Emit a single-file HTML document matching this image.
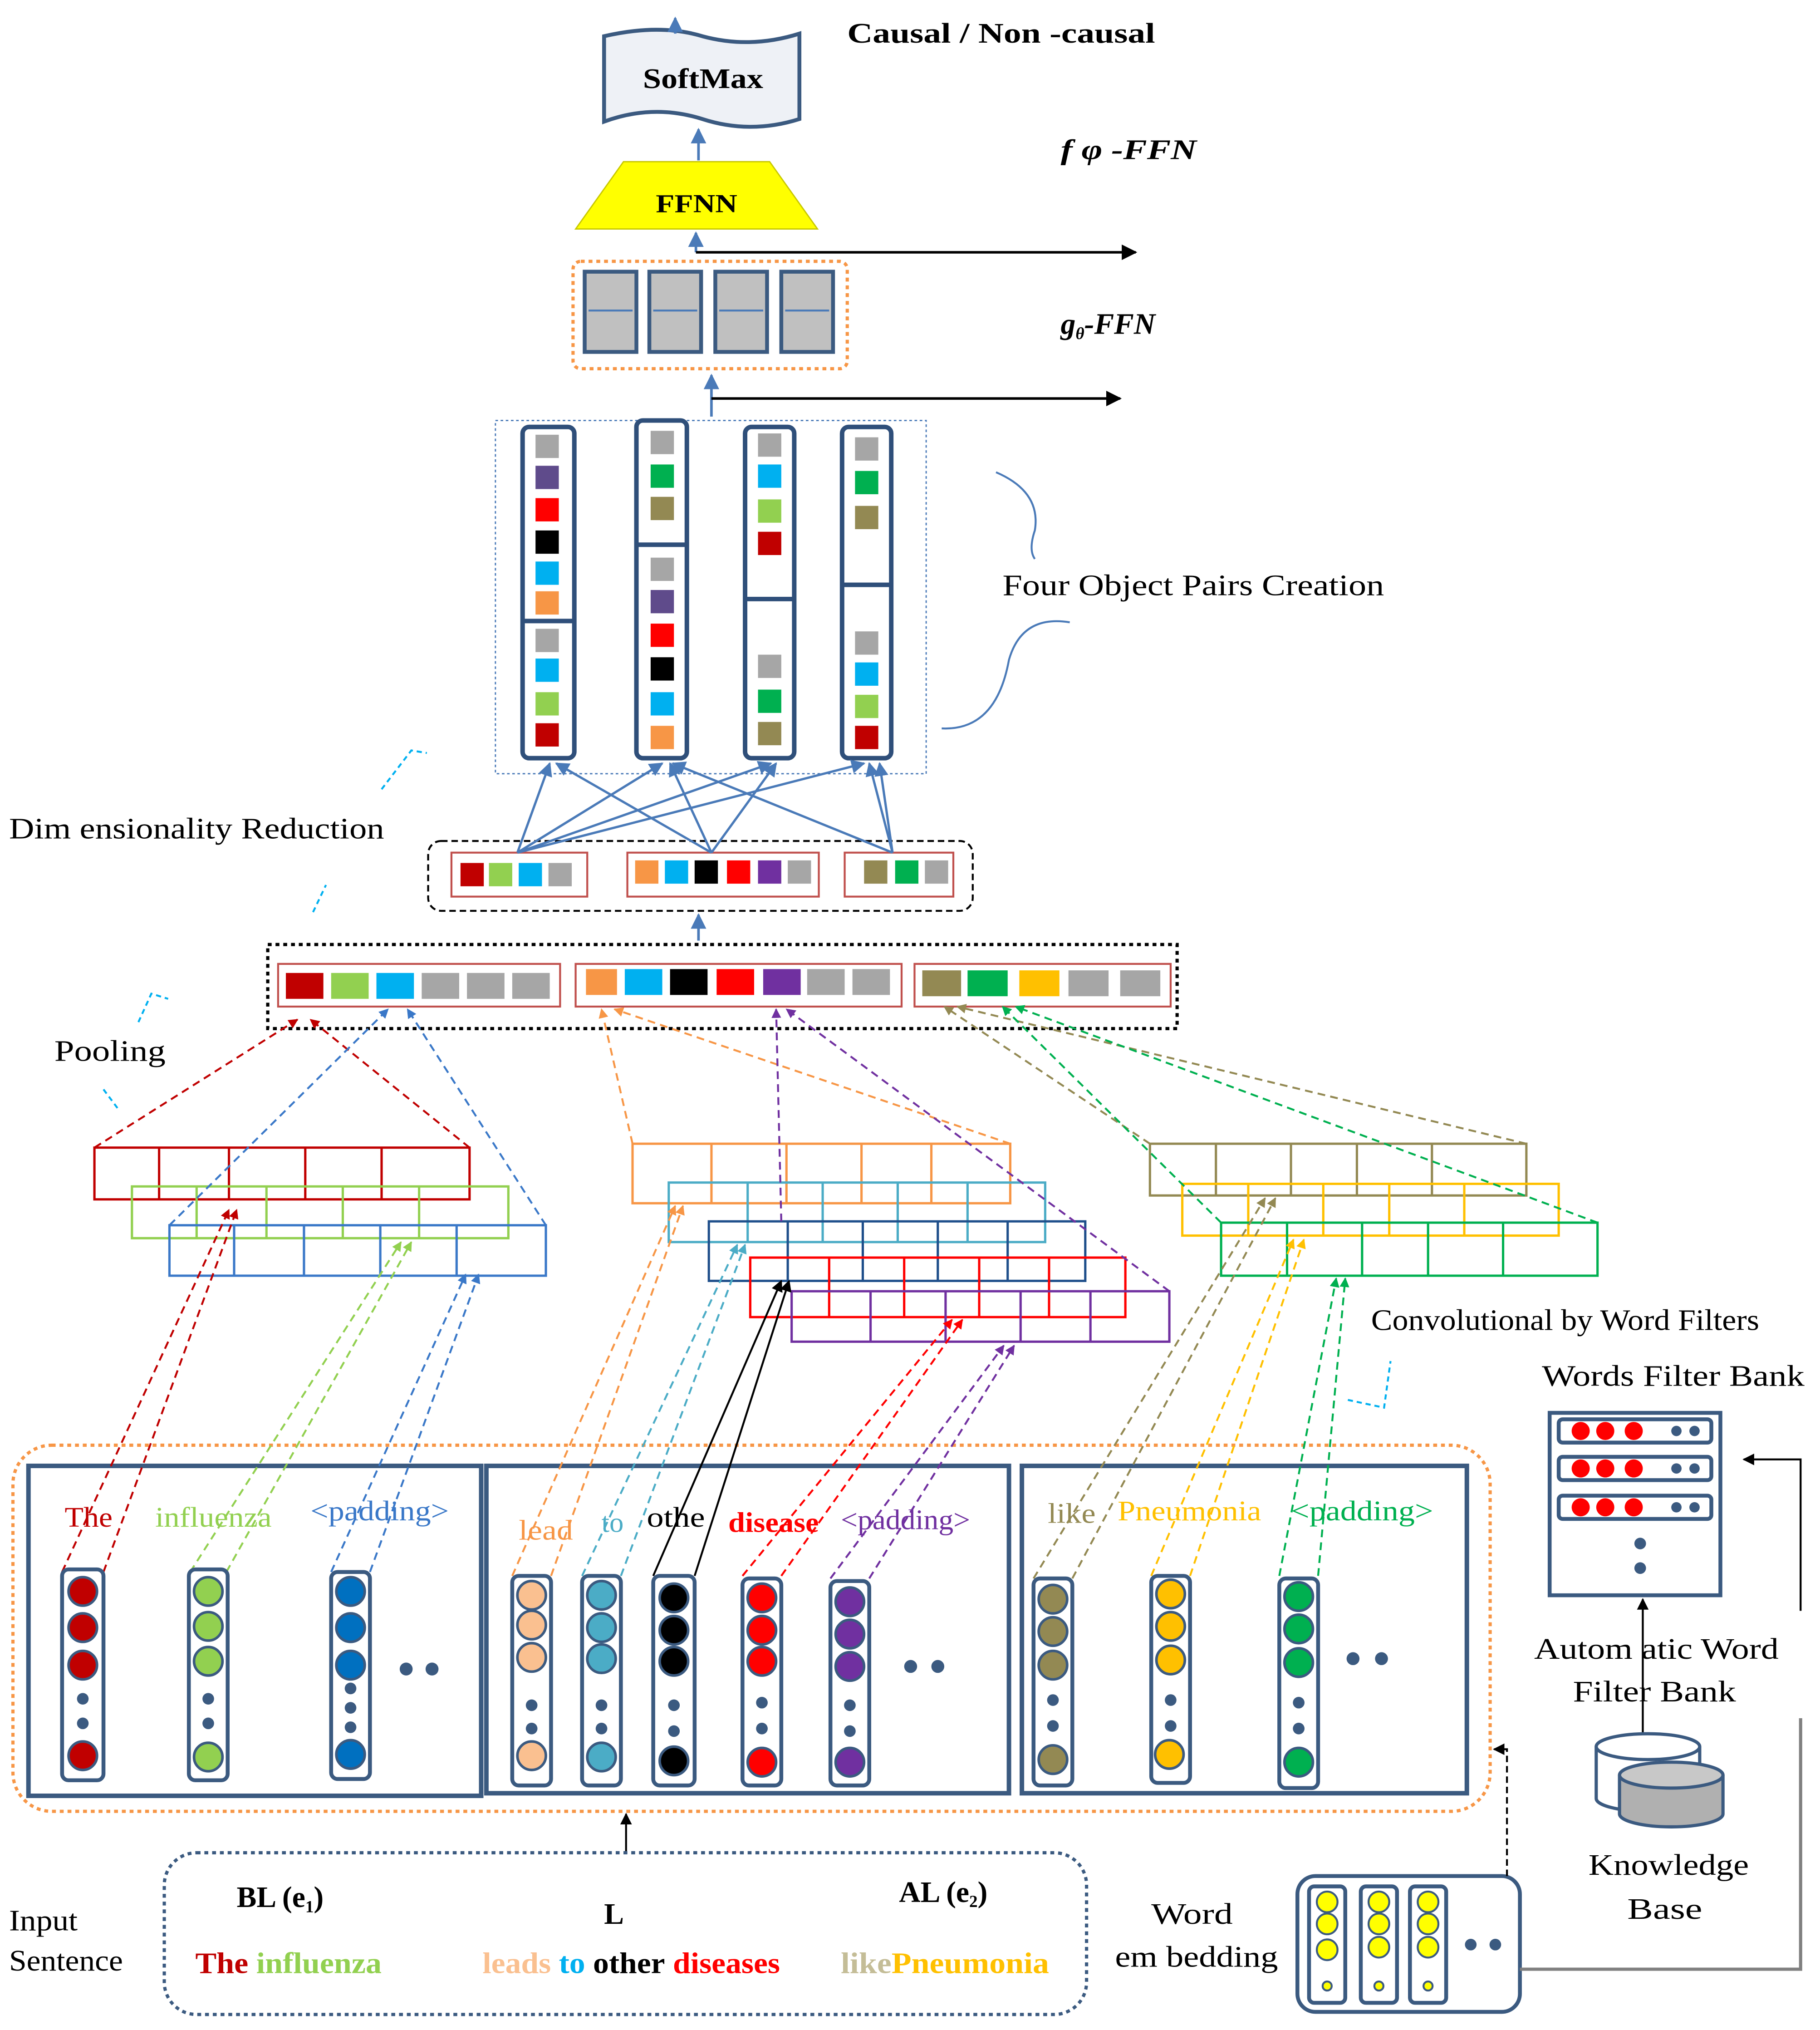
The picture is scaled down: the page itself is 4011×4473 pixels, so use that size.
<!DOCTYPE html>
<html><head><meta charset="utf-8"><style>html,body{margin:0;padding:0;background:#fff}svg{display:block}text{font-family:"Liberation Serif",serif}</style></head><body>
<svg width="4011" height="4473" viewBox="0 0 1407 1569" preserveAspectRatio="none" xmlns="http://www.w3.org/2000/svg">
<defs>
<marker id="ab" viewBox="0 0 10 10" refX="9" refY="5" markerWidth="6" markerHeight="6" orient="auto"><path d="M0,0L10,5L0,10z" fill="#4a7ab8"/></marker>
<marker id="ak" viewBox="0 0 10 10" refX="9" refY="5" markerWidth="6" markerHeight="6" orient="auto"><path d="M0,0L10,5L0,10z" fill="#000"/></marker>
<marker id="ar" viewBox="0 0 10 10" refX="9" refY="5" markerWidth="5" markerHeight="5" orient="auto"><path d="M0,0L10,5L0,10z" fill="#c00000"/></marker>
<marker id="ag" viewBox="0 0 10 10" refX="9" refY="5" markerWidth="5" markerHeight="5" orient="auto"><path d="M0,0L10,5L0,10z" fill="#92d050"/></marker>
<marker id="abl" viewBox="0 0 10 10" refX="9" refY="5" markerWidth="5" markerHeight="5" orient="auto"><path d="M0,0L10,5L0,10z" fill="#3a78c8"/></marker>
<marker id="ao" viewBox="0 0 10 10" refX="9" refY="5" markerWidth="5" markerHeight="5" orient="auto"><path d="M0,0L10,5L0,10z" fill="#f79646"/></marker>
<marker id="at" viewBox="0 0 10 10" refX="9" refY="5" markerWidth="5" markerHeight="5" orient="auto"><path d="M0,0L10,5L0,10z" fill="#4bacc6"/></marker>
<marker id="ared" viewBox="0 0 10 10" refX="9" refY="5" markerWidth="5" markerHeight="5" orient="auto"><path d="M0,0L10,5L0,10z" fill="#ff0000"/></marker>
<marker id="ap" viewBox="0 0 10 10" refX="9" refY="5" markerWidth="5" markerHeight="5" orient="auto"><path d="M0,0L10,5L0,10z" fill="#7030a0"/></marker>
<marker id="aol" viewBox="0 0 10 10" refX="9" refY="5" markerWidth="5" markerHeight="5" orient="auto"><path d="M0,0L10,5L0,10z" fill="#938953"/></marker>
<marker id="ay" viewBox="0 0 10 10" refX="9" refY="5" markerWidth="5" markerHeight="5" orient="auto"><path d="M0,0L10,5L0,10z" fill="#ffc000"/></marker>
<marker id="agr" viewBox="0 0 10 10" refX="9" refY="5" markerWidth="5" markerHeight="5" orient="auto"><path d="M0,0L10,5L0,10z" fill="#00b050"/></marker>
</defs>

<path d="M467,28 Q510,18 543,28 Q580,38 618,26 L618,92 Q580,104 543,92 Q505,80 467,94 Z" fill="#eef1f6" stroke="#3b5a80" stroke-width="3"/>
<text x="497" y="68" font-size="22" font-weight="bold" textLength="93" lengthAdjust="spacingAndGlyphs">SoftMax</text>
<line x1="522" y1="26" x2="522" y2="14" stroke="#4a7ab8" stroke-width="2" marker-end="url(#ab)"/>
<text x="655" y="33" font-size="22" font-weight="bold" textLength="238" lengthAdjust="spacingAndGlyphs">Causal / Non -causal</text>
<line x1="540" y1="124" x2="540" y2="100" stroke="#4a7ab8" stroke-width="2" marker-end="url(#ab)"/>
<text x="820" y="123" font-size="22" font-weight="bold" font-style="italic" textLength="105" lengthAdjust="spacingAndGlyphs">f φ -FFN</text>
<path d="M482,125 L595,125 L632,177 L445,177 Z" fill="#ffff00" stroke="#c8c800"/>
<text x="507" y="164" font-size="20" font-weight="bold" textLength="63" lengthAdjust="spacingAndGlyphs">FFNN</text>
<line x1="538" y1="195" x2="538" y2="180" stroke="#4a7ab8" stroke-width="2" marker-end="url(#ab)"/>
<line x1="538" y1="195" x2="878" y2="195" stroke="#000" stroke-width="2" marker-end="url(#ak)"/>
<rect x="443" y="202" width="212" height="83" rx="6" fill="none" stroke="#f79646" stroke-width="2.5" stroke-dasharray="3,3"/>
<g fill="#c0c0c0" stroke="#3b5a80" stroke-width="3">
<rect x="452" y="210" width="40" height="62"/><rect x="502" y="210" width="40" height="62"/><rect x="553" y="210" width="40" height="62"/><rect x="604" y="210" width="40" height="62"/></g>
<g stroke="#4a7ab8" stroke-width="1.5"><line x1="455" y1="240" x2="489" y2="240"/><line x1="505" y1="240" x2="539" y2="240"/><line x1="556" y1="240" x2="590" y2="240"/><line x1="607" y1="240" x2="641" y2="240"/></g>
<text x="820" y="258" font-size="23" font-weight="bold" font-style="italic">g<tspan font-size="13" dy="4">θ</tspan><tspan dy="-4">-FFN</tspan></text>
<line x1="550" y1="322" x2="550" y2="290" stroke="#4a7ab8" stroke-width="2" marker-end="url(#ab)"/>
<line x1="550" y1="308" x2="866" y2="308" stroke="#000" stroke-width="2" marker-end="url(#ak)"/>

<rect x="383" y="325" width="333" height="273" fill="none" stroke="#4a7ab8" stroke-width="1" stroke-dasharray="2,2"/>
<g fill="#fff" stroke="#2f4f7a" stroke-width="3.5">
<rect x="404" y="330" width="40" height="256" rx="5"/><rect x="492" y="325" width="39" height="261" rx="5"/><rect x="576" y="330" width="38" height="256" rx="5"/><rect x="651" y="330" width="38" height="256" rx="5"/></g>
<g stroke="#2f4f7a" stroke-width="3.5"><line x1="404" y1="480" x2="444" y2="480"/><line x1="492" y1="421" x2="531" y2="421"/><line x1="576" y1="463" x2="614" y2="463"/><line x1="651" y1="452" x2="689" y2="452"/></g>
<g>
<rect x="414" y="336" width="18" height="18" fill="#a6a6a6"/><rect x="414" y="360" width="18" height="18" fill="#5f4b8b"/><rect x="414" y="385" width="18" height="18" fill="#ff0000"/><rect x="414" y="410" width="18" height="18" fill="#000"/><rect x="414" y="434" width="18" height="18" fill="#00b0f0"/><rect x="414" y="457" width="18" height="18" fill="#f79646"/>
<rect x="414" y="486" width="18" height="18" fill="#a6a6a6"/><rect x="414" y="509" width="18" height="18" fill="#00b0f0"/><rect x="414" y="535" width="18" height="18" fill="#92d050"/><rect x="414" y="559" width="18" height="18" fill="#c00000"/>
<rect x="503" y="333" width="18" height="18" fill="#a6a6a6"/><rect x="503" y="359" width="18" height="18" fill="#00b050"/><rect x="503" y="384" width="18" height="18" fill="#938953"/>
<rect x="503" y="431" width="18" height="18" fill="#a6a6a6"/><rect x="503" y="456" width="18" height="18" fill="#5f4b8b"/><rect x="503" y="482" width="18" height="18" fill="#ff0000"/><rect x="503" y="508" width="18" height="18" fill="#000"/><rect x="503" y="535" width="18" height="18" fill="#00b0f0"/><rect x="503" y="561" width="18" height="18" fill="#f79646"/>
<rect x="586" y="335" width="18" height="18" fill="#a6a6a6"/><rect x="586" y="359" width="18" height="18" fill="#00b0f0"/><rect x="586" y="386" width="18" height="18" fill="#92d050"/><rect x="586" y="411" width="18" height="18" fill="#c00000"/>
<rect x="586" y="506" width="18" height="18" fill="#a6a6a6"/><rect x="586" y="533" width="18" height="18" fill="#00b050"/><rect x="586" y="558" width="18" height="18" fill="#938953"/>
<rect x="661" y="338" width="18" height="18" fill="#a6a6a6"/><rect x="661" y="364" width="18" height="18" fill="#00b050"/><rect x="661" y="391" width="18" height="18" fill="#938953"/>
<rect x="661" y="488" width="18" height="18" fill="#a6a6a6"/><rect x="661" y="512" width="18" height="18" fill="#00b0f0"/><rect x="661" y="537" width="18" height="18" fill="#92d050"/><rect x="661" y="561" width="18" height="18" fill="#c00000"/>
</g>
<path d="M770,365 Q805,380 800,410 Q795,425 800,432" fill="none" stroke="#4a7ab8" stroke-width="1.5"/>
<path d="M827,481 Q790,475 780,510 Q770,565 728,563" fill="none" stroke="#4a7ab8" stroke-width="1.5"/>
<text x="775" y="460" font-size="23" textLength="295" lengthAdjust="spacingAndGlyphs">Four Object Pairs Creation</text>

<text x="7" y="648" font-size="23" textLength="290" lengthAdjust="spacingAndGlyphs">Dim ensionality Reduction</text>
<path d="M295,610 L318,580 L330,582" fill="none" stroke="#00b0f0" stroke-width="1.5" stroke-dasharray="4,3"/>
<path d="M242,705 L252,684" fill="none" stroke="#00b0f0" stroke-width="1.5" stroke-dasharray="4,3"/>
<rect x="331" y="650" width="421" height="54" rx="10" fill="none" stroke="#000" stroke-width="1.5" stroke-dasharray="5,3"/>
<g fill="#fff" stroke="#c0504d" stroke-width="1.5"><rect x="349" y="659" width="105" height="34"/><rect x="485" y="659" width="148" height="34"/><rect x="653" y="659" width="84" height="34"/></g>
<rect x="356" y="667" width="18" height="18" fill="#c00000"/><rect x="378" y="667" width="18" height="18" fill="#92d050"/><rect x="401" y="667" width="18" height="18" fill="#00b0f0"/><rect x="424" y="667" width="18" height="18" fill="#a6a6a6"/>
<rect x="491" y="665" width="18" height="18" fill="#f79646"/><rect x="514" y="665" width="18" height="18" fill="#00b0f0"/><rect x="537" y="665" width="18" height="18" fill="#000"/><rect x="562" y="665" width="18" height="18" fill="#ff0000"/><rect x="586" y="665" width="18" height="18" fill="#7030a0"/><rect x="609" y="665" width="18" height="18" fill="#a6a6a6"/>
<rect x="668" y="665" width="18" height="18" fill="#938953"/><rect x="692" y="665" width="18" height="18" fill="#00b050"/><rect x="715" y="665" width="18" height="18" fill="#a6a6a6"/>
<g stroke="#4a7ab8" stroke-width="1.8" marker-end="url(#ab)">
<line x1="400" y1="659" x2="425" y2="590"/><line x1="400" y1="659" x2="512" y2="590"/><line x1="400" y1="659" x2="596" y2="590"/><line x1="400" y1="659" x2="668" y2="590"/>
<line x1="550" y1="659" x2="430" y2="590"/><line x1="550" y1="659" x2="518" y2="590"/><line x1="550" y1="659" x2="600" y2="590"/>
<line x1="690" y1="659" x2="672" y2="590"/><line x1="690" y1="659" x2="520" y2="590"/><line x1="690" y1="659" x2="680" y2="590"/>
</g>
<line x1="540" y1="727" x2="540" y2="707" stroke="#4a7ab8" stroke-width="2" marker-end="url(#ab)"/>

<rect x="207" y="730" width="703" height="65" fill="none" stroke="#000" stroke-width="2.5" stroke-dasharray="3,3"/>
<g fill="#fff" stroke="#c0504d" stroke-width="1.5"><rect x="215" y="745" width="218" height="33"/><rect x="445" y="745" width="252" height="33"/><rect x="707" y="745" width="198" height="33"/></g>
<rect x="221" y="752" width="29" height="20" fill="#c00000"/><rect x="256" y="752" width="29" height="20" fill="#92d050"/><rect x="291" y="752" width="29" height="20" fill="#00b0f0"/><rect x="326" y="752" width="29" height="20" fill="#a6a6a6"/><rect x="361" y="752" width="29" height="20" fill="#a6a6a6"/><rect x="396" y="752" width="29" height="20" fill="#a6a6a6"/>
<rect x="453" y="749" width="24" height="20" fill="#f79646"/><rect x="483" y="749" width="29" height="20" fill="#00b0f0"/><rect x="518" y="749" width="29" height="20" fill="#000"/><rect x="554" y="749" width="29" height="20" fill="#ff0000"/><rect x="590" y="749" width="29" height="20" fill="#7030a0"/><rect x="624" y="749" width="29" height="20" fill="#a6a6a6"/><rect x="659" y="749" width="29" height="20" fill="#a6a6a6"/>
<rect x="713" y="750" width="30" height="20" fill="#938953"/><rect x="748" y="750" width="31" height="20" fill="#00b050"/><rect x="788" y="750" width="31" height="20" fill="#ffc000"/><rect x="826" y="750" width="31" height="20" fill="#a6a6a6"/><rect x="866" y="750" width="31" height="20" fill="#a6a6a6"/>
<text x="42" y="820" font-size="23" textLength="86" lengthAdjust="spacingAndGlyphs">Pooling</text>
<path d="M107,790 L117,768 L130,772" fill="none" stroke="#00b0f0" stroke-width="1.5" stroke-dasharray="4,3"/>
<path d="M80,842 L92,858" fill="none" stroke="#00b0f0" stroke-width="1.5" stroke-dasharray="4,3"/>

<g fill="none" stroke-width="1.8">
<g stroke="#c00000"><rect x="73" y="887" width="290" height="40"/><path d="M123,887v40M177,887v40M236,887v40M295,887v40"/></g>
<g stroke="#92d050"><rect x="102" y="917" width="291" height="40"/><path d="M152,917v40M206,917v40M265,917v40M324,917v40"/></g>
<g stroke="#3a78c8"><rect x="131" y="947" width="291" height="39"/><path d="M181,947v39M235,947v39M294,947v39M353,947v39"/></g>
<g stroke="#f79646"><rect x="489" y="884" width="292" height="46"/><path d="M550,884v46M608,884v46M666,884v46M720,884v46"/></g>
<g stroke="#4bacc6"><rect x="517" y="914" width="291" height="46"/><path d="M578,914v46M636,914v46M694,914v46M748,914v46"/></g>
<g stroke="#1f4f8b"><rect x="548" y="944" width="291" height="46"/><path d="M609,944v46M667,944v46M725,944v46M779,944v46"/></g>
<g stroke="#ff0000"><rect x="580" y="972" width="290" height="46"/><path d="M641,972v46M699,972v46M757,972v46M811,972v46"/></g>
<g stroke="#7030a0"><rect x="612" y="998" width="292" height="39"/><path d="M673,998v39M731,998v39M789,998v39M843,998v39"/></g>
<g stroke="#938953"><rect x="889" y="884" width="291" height="40"/><path d="M940,884v40M998,884v40M1049,884v40M1107,884v40"/></g>
<g stroke="#ffc000"><rect x="914" y="915" width="291" height="40"/><path d="M965,915v40M1023,915v40M1074,915v40M1132,915v40"/></g>
<g stroke="#00b050"><rect x="944" y="945" width="291" height="41"/><path d="M995,945v41M1053,945v41M1104,945v41M1162,945v41"/></g>
</g>

<g fill="none" stroke-width="1.5" stroke-dasharray="6,4">
<line x1="73" y1="887" x2="230" y2="788" stroke="#c00000" marker-end="url(#ar)"/><line x1="363" y1="887" x2="240" y2="788" stroke="#c00000" marker-end="url(#ar)"/>
<line x1="131" y1="947" x2="300" y2="780" stroke="#3a78c8" marker-end="url(#abl)"/><line x1="422" y1="947" x2="315" y2="780" stroke="#3a78c8" marker-end="url(#abl)"/>
<line x1="489" y1="884" x2="465" y2="780" stroke="#f79646" marker-end="url(#ao)"/><line x1="781" y1="884" x2="475" y2="780" stroke="#f79646" marker-end="url(#ao)"/>
<line x1="604" y1="944" x2="600" y2="780" stroke="#7030a0" marker-end="url(#ap)"/><line x1="904" y1="998" x2="608" y2="780" stroke="#7030a0" marker-end="url(#ap)"/>
<line x1="889" y1="884" x2="730" y2="778" stroke="#938953" marker-end="url(#aol)"/><line x1="1180" y1="884" x2="740" y2="778" stroke="#938953" marker-end="url(#aol)"/>
<line x1="944" y1="945" x2="775" y2="778" stroke="#00b050" marker-end="url(#agr)"/><line x1="1235" y1="945" x2="785" y2="778" stroke="#00b050" marker-end="url(#agr)"/>
</g>
<text x="1060" y="1028" font-size="23" textLength="300" lengthAdjust="spacingAndGlyphs">Convolutional by Word Filters</text>
<path d="M1042,1082 L1070,1088 L1075,1052" fill="none" stroke="#00b0f0" stroke-width="1.5" stroke-dasharray="4,3"/>

<rect x="10" y="1117" width="1142" height="283" rx="30" fill="none" stroke="#f79646" stroke-width="2.5" stroke-dasharray="3,3"/>
<g fill="none" stroke="#3b5a80" stroke-width="3.5"><rect x="22" y="1133" width="350" height="255"/><rect x="376" y="1133" width="404" height="253"/><rect x="790" y="1133" width="344" height="253"/></g>

<g fill="none" stroke-width="1.5" stroke-dasharray="6,4">
<line x1="48" y1="1215" x2="177" y2="935" stroke="#c00000" marker-end="url(#ar)"/><line x1="80" y1="1215" x2="183" y2="935" stroke="#c00000" marker-end="url(#ar)"/>
<line x1="147" y1="1215" x2="310" y2="960" stroke="#92d050" marker-end="url(#ag)"/><line x1="175" y1="1215" x2="318" y2="960" stroke="#92d050" marker-end="url(#ag)"/>
<line x1="256" y1="1215" x2="360" y2="985" stroke="#3a78c8" marker-end="url(#abl)"/><line x1="286" y1="1215" x2="370" y2="985" stroke="#3a78c8" marker-end="url(#abl)"/>
<line x1="396" y1="1218" x2="522" y2="932" stroke="#f79646" marker-end="url(#ao)"/><line x1="426" y1="1218" x2="528" y2="932" stroke="#f79646" marker-end="url(#ao)"/>
<line x1="450" y1="1218" x2="570" y2="962" stroke="#4bacc6" marker-end="url(#at)"/><line x1="480" y1="1218" x2="576" y2="962" stroke="#4bacc6" marker-end="url(#at)"/>
<line x1="505" y1="1218" x2="604" y2="990" stroke="#000" stroke-dasharray="none" marker-end="url(#ak)"/><line x1="537" y1="1218" x2="610" y2="990" stroke="#000" stroke-dasharray="none" marker-end="url(#ak)"/>
<line x1="574" y1="1218" x2="736" y2="1020" stroke="#ff0000" marker-end="url(#ared)"/><line x1="604" y1="1218" x2="744" y2="1020" stroke="#ff0000" marker-end="url(#ared)"/>
<line x1="642" y1="1220" x2="776" y2="1040" stroke="#7030a0" marker-end="url(#ap)"/><line x1="672" y1="1220" x2="784" y2="1040" stroke="#7030a0" marker-end="url(#ap)"/>
<line x1="799" y1="1220" x2="978" y2="926" stroke="#938953" marker-end="url(#aol)"/><line x1="829" y1="1220" x2="986" y2="926" stroke="#938953" marker-end="url(#aol)"/>
<line x1="890" y1="1218" x2="1000" y2="958" stroke="#ffc000" marker-end="url(#ay)"/><line x1="920" y1="1218" x2="1008" y2="958" stroke="#ffc000" marker-end="url(#ay)"/>
<line x1="989" y1="1218" x2="1033" y2="988" stroke="#00b050" marker-end="url(#agr)"/><line x1="1019" y1="1218" x2="1040" y2="988" stroke="#00b050" marker-end="url(#agr)"/>
</g>

<g font-size="22">
<text x="50" y="1180" fill="#c00000" textLength="37" lengthAdjust="spacingAndGlyphs">The</text><text x="120" y="1180" fill="#92d050" textLength="90" lengthAdjust="spacingAndGlyphs">influenza</text><text x="240" y="1175" fill="#3a78c8" textLength="107" lengthAdjust="spacingAndGlyphs">&lt;padding&gt;</text>
<text x="401" y="1190" fill="#f79646" textLength="42" lengthAdjust="spacingAndGlyphs">lead</text><text x="465" y="1184" fill="#4bacc6">to</text><text x="500" y="1180" fill="#000" textLength="45" lengthAdjust="spacingAndGlyphs">othe</text><text x="563" y="1184" fill="#ff0000" font-weight="bold" textLength="70" lengthAdjust="spacingAndGlyphs">disease</text><text x="650" y="1182" fill="#7030a0" textLength="100" lengthAdjust="spacingAndGlyphs">&lt;padding&gt;</text>
<text x="810" y="1177" fill="#938953" textLength="37" lengthAdjust="spacingAndGlyphs">like</text><text x="864" y="1175" fill="#ffc000" textLength="111" lengthAdjust="spacingAndGlyphs">Pneumonia</text><text x="998" y="1175" fill="#00b050" textLength="110" lengthAdjust="spacingAndGlyphs">&lt;padding&gt;</text>
</g>

<g>
<g fill="#fff" stroke="#3b5a80" stroke-width="3">
<rect x="48" y="1213" width="32" height="163" rx="5"/><rect x="146" y="1213" width="30" height="163" rx="5"/><rect x="256" y="1215" width="30" height="160" rx="5"/>
<rect x="396" y="1218" width="30" height="162" rx="5"/><rect x="450" y="1218" width="30" height="162" rx="5"/><rect x="505" y="1218" width="32" height="162" rx="5"/><rect x="574" y="1220" width="30" height="160" rx="5"/><rect x="642" y="1222" width="30" height="158" rx="5"/>
<rect x="799" y="1220" width="30" height="160" rx="5"/><rect x="890" y="1218" width="30" height="160" rx="5"/><rect x="989" y="1220" width="30" height="162" rx="5"/>
</g>
<g stroke="#3b5a80" stroke-width="2">
<g fill="#c00000"><circle cx="64" cy="1230" r="11"/><circle cx="64" cy="1258" r="11"/><circle cx="64" cy="1287" r="11"/><circle cx="64" cy="1357" r="11"/></g>
<g fill="#92d050"><circle cx="161" cy="1230" r="11"/><circle cx="161" cy="1257" r="11"/><circle cx="161" cy="1284" r="11"/><circle cx="161" cy="1358" r="11"/></g>
<g fill="#0070c0"><circle cx="271" cy="1230" r="11"/><circle cx="271" cy="1258" r="11"/><circle cx="271" cy="1287" r="11"/><circle cx="271" cy="1356" r="11"/></g>
<g fill="#fac090"><circle cx="411" cy="1233" r="11"/><circle cx="411" cy="1256" r="11"/><circle cx="411" cy="1281" r="11"/><circle cx="411" cy="1357" r="11"/></g>
<g fill="#4bacc6"><circle cx="465" cy="1233" r="11"/><circle cx="465" cy="1258" r="11"/><circle cx="465" cy="1282" r="11"/><circle cx="465" cy="1358" r="11"/></g>
<g fill="#000"><circle cx="521" cy="1235" r="11"/><circle cx="521" cy="1260" r="11"/><circle cx="521" cy="1284" r="11"/><circle cx="521" cy="1361" r="11"/></g>
<g fill="#ff0000"><circle cx="589" cy="1235" r="11"/><circle cx="589" cy="1260" r="11"/><circle cx="589" cy="1284" r="11"/><circle cx="589" cy="1362" r="11"/></g>
<g fill="#7030a0"><circle cx="657" cy="1238" r="11"/><circle cx="657" cy="1263" r="11"/><circle cx="657" cy="1288" r="11"/><circle cx="657" cy="1362" r="11"/></g>
<g fill="#938953"><circle cx="814" cy="1236" r="11"/><circle cx="814" cy="1261" r="11"/><circle cx="814" cy="1287" r="11"/><circle cx="814" cy="1360" r="11"/></g>
<g fill="#ffc000"><circle cx="905" cy="1232" r="11"/><circle cx="905" cy="1257" r="11"/><circle cx="905" cy="1283" r="11"/><circle cx="904" cy="1356" r="11"/></g>
<g fill="#00b050"><circle cx="1004" cy="1234" r="11"/><circle cx="1004" cy="1259" r="11"/><circle cx="1004" cy="1285" r="11"/><circle cx="1004" cy="1362" r="11"/></g>
</g>
<g fill="#3b5a80">
<circle cx="64" cy="1313" r="4.5"/><circle cx="64" cy="1332" r="4.5"/><circle cx="161" cy="1313" r="4.5"/><circle cx="161" cy="1332" r="4.5"/><circle cx="271" cy="1305" r="4.5"/><circle cx="271" cy="1320" r="4.5"/><circle cx="271" cy="1335" r="4.5"/>
<circle cx="411" cy="1318" r="4.5"/><circle cx="411" cy="1336" r="4.5"/><circle cx="465" cy="1318" r="4.5"/><circle cx="465" cy="1336" r="4.5"/><circle cx="521" cy="1318" r="4.5"/><circle cx="521" cy="1338" r="4.5"/><circle cx="589" cy="1316" r="4.5"/><circle cx="589" cy="1336" r="4.5"/><circle cx="657" cy="1318" r="4.5"/><circle cx="657" cy="1338" r="4.5"/>
<circle cx="814" cy="1314" r="4.5"/><circle cx="814" cy="1334" r="4.5"/><circle cx="905" cy="1314" r="4.5"/><circle cx="905" cy="1334" r="4.5"/><circle cx="1004" cy="1316" r="4.5"/><circle cx="1004" cy="1336" r="4.5"/>
<circle cx="314" cy="1290" r="5"/><circle cx="334" cy="1290" r="5"/><circle cx="704" cy="1288" r="5"/><circle cx="725" cy="1288" r="5"/><circle cx="1046" cy="1282" r="5"/><circle cx="1068" cy="1282" r="5"/>
</g>
</g>

<line x1="484" y1="1432" x2="484" y2="1402" stroke="#000" stroke-width="1.5" marker-end="url(#ak)"/>
<rect x="127" y="1432" width="713" height="125" rx="25" fill="none" stroke="#3b5a80" stroke-width="2.5" stroke-dasharray="3,3"/>
<text x="7" y="1492" font-size="23" textLength="53" lengthAdjust="spacingAndGlyphs">Input</text><text x="7" y="1523" font-size="23" textLength="88" lengthAdjust="spacingAndGlyphs">Sentence</text>
<text x="183" y="1474" font-size="23" font-weight="bold">BL (e<tspan font-size="13" dy="4">1</tspan><tspan dy="-4">)</tspan></text>
<text x="467" y="1487" font-size="23" font-weight="bold">L</text>
<text x="695" y="1470" font-size="23" font-weight="bold">AL (e<tspan font-size="13" dy="4">2</tspan><tspan dy="-4">)</tspan></text>
<text x="151" y="1525" font-size="23" font-weight="bold" textLength="144" lengthAdjust="spacingAndGlyphs"><tspan fill="#c00000">The</tspan><tspan fill="#92d050"> influenza</tspan></text>
<text x="373" y="1525" font-size="23" font-weight="bold" textLength="230" lengthAdjust="spacingAndGlyphs"><tspan fill="#fac090">leads</tspan><tspan fill="#00b0f0"> to</tspan><tspan fill="#000"> other</tspan><tspan fill="#ff0000"> diseases</tspan></text>
<text x="650" y="1525" font-size="23" font-weight="bold" textLength="161" lengthAdjust="spacingAndGlyphs"><tspan fill="#c4bd97">like</tspan><tspan fill="#ffc000">Pneumonia</tspan></text>
<text x="890" y="1487" font-size="23" textLength="63" lengthAdjust="spacingAndGlyphs">Word</text><text x="862" y="1520" font-size="23" textLength="126" lengthAdjust="spacingAndGlyphs">em bedding</text>
<rect x="1003" y="1450" width="172" height="105" rx="14" fill="#fff" stroke="#3b5a80" stroke-width="3"/>
<g fill="#fff" stroke="#3b5a80" stroke-width="3"><rect x="1012" y="1458" width="28" height="90" rx="4"/><rect x="1052" y="1458" width="28" height="90" rx="4"/><rect x="1090" y="1458" width="28" height="90" rx="4"/></g>
<g fill="#ffff00" stroke="#3b5a80" stroke-width="1.5">
<circle cx="1026" cy="1470" r="8"/><circle cx="1026" cy="1487" r="8"/><circle cx="1026" cy="1507" r="8"/><circle cx="1026" cy="1535" r="3.5"/>
<circle cx="1066" cy="1470" r="8"/><circle cx="1066" cy="1487" r="8"/><circle cx="1066" cy="1505" r="8"/><circle cx="1066" cy="1535" r="3.5"/>
<circle cx="1104" cy="1470" r="8"/><circle cx="1104" cy="1487" r="8"/><circle cx="1104" cy="1505" r="8"/><circle cx="1104" cy="1535" r="3.5"/>
</g>
<circle cx="1137" cy="1503" r="4.5" fill="#3b5a80"/><circle cx="1156" cy="1503" r="4.5" fill="#3b5a80"/>
<path d="M1165,1450 L1165,1352 L1155,1352" fill="none" stroke="#000" stroke-width="1.5" stroke-dasharray="5,3" marker-end="url(#ak)"/>
<path d="M1175,1522 L1392,1522 L1392,1328" fill="none" stroke="#808080" stroke-width="2.5"/>
<path d="M1392,1245 L1392,1128 L1348,1128" fill="none" stroke="#000" stroke-width="1.5" marker-end="url(#ak)"/>

<text x="1192" y="1071" font-size="23" textLength="203" lengthAdjust="spacingAndGlyphs">Words Filter Bank</text>
<rect x="1198" y="1092" width="132" height="141" fill="#fff" stroke="#3b5a80" stroke-width="3"/>
<g fill="#fff" stroke="#3b5a80" stroke-width="3"><rect x="1205" y="1097" width="118" height="18" rx="3"/><rect x="1205" y="1126" width="118" height="18" rx="3"/><rect x="1205" y="1156" width="118" height="18" rx="3"/></g>
<g fill="#ff0000"><circle cx="1222" cy="1106" r="7"/><circle cx="1241" cy="1106" r="7"/><circle cx="1263" cy="1106" r="7"/><circle cx="1222" cy="1135" r="7"/><circle cx="1241" cy="1135" r="7"/><circle cx="1263" cy="1135" r="7"/><circle cx="1222" cy="1165" r="7"/><circle cx="1241" cy="1165" r="7"/><circle cx="1263" cy="1165" r="7"/></g>
<g fill="#3b5a80"><circle cx="1296" cy="1106" r="4"/><circle cx="1310" cy="1106" r="4"/><circle cx="1296" cy="1135" r="4"/><circle cx="1310" cy="1135" r="4"/><circle cx="1296" cy="1165" r="4"/><circle cx="1310" cy="1165" r="4"/><circle cx="1268" cy="1193" r="4.5"/><circle cx="1268" cy="1212" r="4.5"/></g>
<line x1="1270" y1="1340" x2="1270" y2="1236" stroke="#000" stroke-width="1.5" marker-end="url(#ak)"/>
<text x="1186" y="1282" font-size="23" textLength="189" lengthAdjust="spacingAndGlyphs">Autom atic Word</text><text x="1216" y="1315" font-size="23" textLength="126" lengthAdjust="spacingAndGlyphs">Filter Bank</text>
<path d="M1234,1350 L1234,1390 A40,10 0 0 0 1314,1390 L1314,1350" fill="#fff" stroke="#3b5a80" stroke-width="2.5"/>
<ellipse cx="1274" cy="1350" rx="40" ry="10" fill="#fff" stroke="#3b5a80" stroke-width="2.5"/>
<path d="M1252,1372 L1252,1402 A40,10 0 0 0 1332,1402 L1332,1372" fill="#b0b0b0" stroke="#3b5a80" stroke-width="2.5"/>
<ellipse cx="1292" cy="1372" rx="40" ry="10" fill="#c8c8c8" stroke="#3b5a80" stroke-width="2.5"/>
<text x="1228" y="1449" font-size="23" textLength="124" lengthAdjust="spacingAndGlyphs">Knowledge</text><text x="1258" y="1483" font-size="23" textLength="58" lengthAdjust="spacingAndGlyphs">Base</text>
</svg>
</body></html>
